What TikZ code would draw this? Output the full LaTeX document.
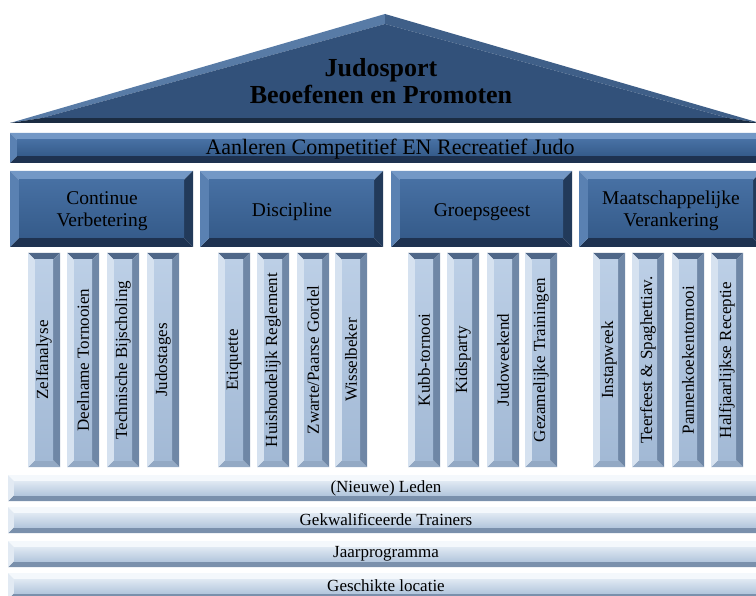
\documentclass[tikz,border=0pt]{standalone}
\usepackage{fontspec}
\setmainfont{Liberation Serif}
\usetikzlibrary{positioning}

% colour sets: T top, L left, R right, B bottom, A/Z face
\definecolor{rfT}{HTML}{587BA6}
\definecolor{rfR}{HTML}{3F5F88}
\definecolor{rfB}{HTML}{1B2C42}
\definecolor{rfA}{HTML}{32517A}
\definecolor{hdT}{HTML}{7398C6}
\definecolor{hdL}{HTML}{5A81B2}
\definecolor{hdR}{HTML}{223A5A}
\definecolor{hdB}{HTML}{1E3250}
\definecolor{hdA}{HTML}{4770A3}
\definecolor{hdZ}{HTML}{355B8A}
\definecolor{plT}{HTML}{4F6788}
\definecolor{plL}{HTML}{D6E2F0}
\definecolor{plR}{HTML}{6F87A6}
\definecolor{plB}{HTML}{93A9C4}
\definecolor{plA}{HTML}{BCCFE6}
\definecolor{plZ}{HTML}{A2B9D5}
\definecolor{bsT}{HTML}{F4F8FC}
\definecolor{bsL}{HTML}{E2EAF3}
\definecolor{bsR}{HTML}{8196B1}
\definecolor{bsB}{HTML}{7A90AC}
\definecolor{bsA}{HTML}{E0E9F3}
\definecolor{bsZ}{HTML}{B4C7DD}

\newcommand{\bevelrect}[6]{%
  \fill[#6T] (#1,#2) -- (#3,#2) -- (#3-#5,#2+#5) -- (#1+#5,#2+#5) -- cycle;
  \fill[#6B] (#1,#4) -- (#3,#4) -- (#3-#5,#4-#5) -- (#1+#5,#4-#5) -- cycle;
  \fill[#6L] (#1,#2) -- (#1+#5,#2+#5) -- (#1+#5,#4-#5) -- (#1,#4) -- cycle;
  \fill[#6R] (#3,#2) -- (#3-#5,#2+#5) -- (#3-#5,#4-#5) -- (#3,#4) -- cycle;
  \shade[top color=#6A, bottom color=#6Z] (#1+#5,#2+#5) rectangle (#3-#5,#4-#5);
}

\begin{document}
\begin{tikzpicture}[x=1pt,y=-1pt,
  roofname/.style={font=\fontsize{26}{27}\selectfont\bfseries, align=center},
  beamname/.style={font=\fontsize{22}{23}\selectfont},
  pillarhead/.style={font=\fontsize{19.5}{22}\selectfont, align=center},
  pillarname/.style={font=\fontsize{17}{18}\selectfont, rotate=90},
  basename/.style={font=\fontsize{17}{18}\selectfont}]
\useasboundingbox (0,0) rectangle (756,596);
\clip (0,0) rectangle (756,596);

% roof
\fill[rfT] (10,123) -- (385,14) -- (385,24) -- (42,118) -- cycle;
\fill[rfR] (385,14) -- (760,123) -- (728,118) -- (385,24) -- cycle;
\fill[rfB] (10,123) -- (760,123) -- (728,118) -- (42,118) -- cycle;
\fill[rfA] (42,118) -- (385,24) -- (728,118) -- cycle;
\node[roofname] (roof) at (381,81) {Judosport\\Beoefenen en Promoten};

% beam
\bevelrect{10}{133}{770}{163}{7}{hd}
\node[beamname] (beam) at (390,149) {Aanleren Competitief EN Recreatief Judo};

% pillar heads
\bevelrect{10}{171}{193}{247}{9}{hd}
\bevelrect{200}{171}{383}{247}{9}{hd}
\bevelrect{391}{171}{572}{247}{9}{hd}
\bevelrect{579}{171}{762}{247}{9}{hd}
\node[pillarhead] (cv) at (102,211) {Continue\\Verbetering};
\node[pillarhead] (dis) at (292,212) {Discipline};
\node[pillarhead] (gg) at (482,212) {Groepsgeest};
\node[pillarhead] (mv) at (671,211) {Maatschappelijke\\Verankering};

% pillars
\foreach \x/\t [count=\i] in {28/Zelfanalyse, 67/Deelname Tornooien,
    107/Technische Bijscholing, 147/Judostages,
    218/Etiquette, 257/Huishoudelijk Reglement,
    297/{Zwarte/Paarse Gordel}, 335/Wisselbeker,
    408/Kubb-tornooi, 447/Kidsparty, 487/Judoweekend,
    525/Gezamelijke Trainingen,
    593/Instapweek, 632/Teerfeest \& Spaghettiav.,
    672/Pannenkoekentornooi, 711/Halfjaarlijkse Receptie} {
  \bevelrect{\x}{253}{\x+32}{467}{7}{pl}
  \node[pillarname] (p\i) at (\x+16,360) {\t};
}

% foundation
\foreach \y/\t [count=\i] in {475/(Nieuwe) Leden, 507/Gekwalificeerde Trainers,
    541/Jaarprogramma, 573/Geschikte locatie} {
  \bevelrect{8}{\y}{764}{\y+26}{6}{bs}
  \node[basename] (b\i) at (386,\y+13) {\t};
}
\end{tikzpicture}
\end{document}
